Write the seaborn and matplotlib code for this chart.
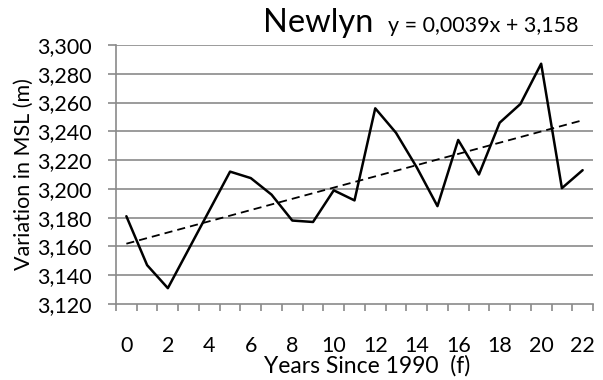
import matplotlib
matplotlib.use("Agg")
import matplotlib.pyplot as plt
import seaborn as sns
import pandas as pd
import numpy as np
from matplotlib.ticker import FuncFormatter, FixedLocator

# ---- data ----
years = list(range(0, 23))
msl = [3.181, 3.147, 3.131, 3.158, 3.185, 3.212, 3.2075, 3.196, 3.178, 3.177,
       3.199, 3.192, 3.256, 3.239, 3.215, 3.188, 3.234, 3.210, 3.246, 3.259,
       3.287, 3.2005, 3.213]
trend_slope = 0.0039
trend_intercept = 3.158
title_text = "Newlyn"
equation_text = "y = 0,0039x + 3,158"
x_label = "Years Since 1990  (f)"
y_label = "Variation in MSL (m)"
y_ticks = [3.12, 3.14, 3.16, 3.18, 3.20, 3.22, 3.24, 3.26, 3.28, 3.30]
x_tick_labels = list(range(0, 23, 2))

df = pd.DataFrame({"year": years, "msl": msl})
df["trend"] = trend_intercept + trend_slope * (df["year"] + 1)

sns.set_theme(style="white")
plt.rcParams["font.family"] = ["Lato", "DejaVu Sans"]

fig = plt.figure(figsize=(6.03, 3.80), dpi=100)
ax = fig.add_axes([116/603, 1-304/380, (593-116)/603, (304-45)/380])

grey = "#8a8a8a"
for yt in y_ticks[1:]:
    ax.axhline(yt, color=grey, lw=1.2, zorder=0)

sns.lineplot(data=df, x="year", y="msl", color="black", lw=1.8, ax=ax, zorder=3)
sns.lineplot(data=df, x="year", y="trend", color="black", lw=1.3, ax=ax,
             linestyle=(0, (4.5, 2.8)), zorder=2)

ax.set_xlim(-0.5, 22.5)
ax.set_ylim(3.12, 3.30)
ax.set_yticks(y_ticks)
ax.yaxis.set_major_formatter(FuncFormatter(lambda v, p: f"{v:.3f}".replace(".", ",")))
ax.set_xticks(x_tick_labels)
ax.set_xticklabels([str(v) for v in x_tick_labels])
ax.xaxis.set_minor_locator(FixedLocator(np.arange(-0.5, 23, 1.0)))

ax.tick_params(axis="x", which="major", length=0, pad=23, labelsize=15.5, colors="black")
ax.tick_params(axis="x", which="minor", length=4.8, width=1.2, color=grey, direction="out", bottom=True)
ax.tick_params(axis="y", which="major", length=5.8, width=1.2, color=grey, direction="out",
               pad=12, labelsize=15.5, left=True, labelcolor="black")

for s in ["top", "right"]:
    ax.spines[s].set_visible(False)
for s in ["left", "bottom"]:
    ax.spines[s].set_color(grey)
    ax.spines[s].set_linewidth(1.2)

ax.set_xlabel("")
ax.set_ylabel("")
fig.text(367/603, 1-366/380, x_label, ha="center", va="center", fontsize=16.5, color="black")
fig.text(24/603, 1-174/380, y_label, ha="center", va="center", rotation=90, fontsize=15.5, color="black")
fig.text(263/603, 1-32/380, title_text, ha="left", va="baseline", fontsize=23.5, color="black")
fig.text(388/603, 1-32/380, equation_text, ha="left", va="baseline", fontsize=15.5, color="black")

fig.savefig("out.png", dpi=100)
